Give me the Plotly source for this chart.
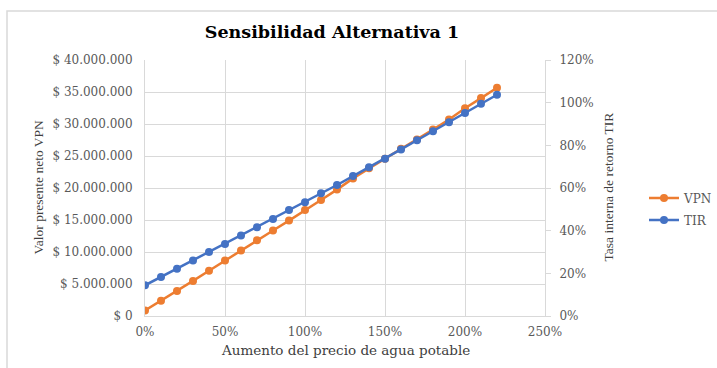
import plotly.graph_objects as go

# Aumento del precio del agua potable (%)
aumento = [0, 10, 20, 30, 40, 50, 60, 70, 80, 90, 100, 110,
           120, 130, 140, 150, 160, 170, 180, 190, 200, 210, 220]

# Valor presente neto (pesos)
vpn = [860000, 2370000, 3920000, 5480000, 7080000, 8680000, 10240000,
       11830000, 13350000, 14910000, 16580000, 18130000, 19750000,
       21500000, 23070000, 24560000, 26120000, 27580000, 29140000,
       30690000, 32450000, 34050000, 35670000]

# Tasa interna de retorno (fracción)
tir = [0.144, 0.183, 0.222, 0.260, 0.300, 0.338, 0.377, 0.416, 0.455,
       0.497, 0.533, 0.575, 0.614, 0.656, 0.697, 0.737, 0.781, 0.824,
       0.866, 0.908, 0.951, 0.995, 1.037]

vpn_ticks = [0, 5e6, 10e6, 15e6, 20e6, 25e6, 30e6, 35e6, 40e6]
vpn_tick_text = ["$ 0", "$ 5.000.000", "$ 10.000.000", "$ 15.000.000",
                 "$ 20.000.000", "$ 25.000.000", "$ 30.000.000",
                 "$ 35.000.000", "$ 40.000.000"]
tir_ticks = [0, 0.2, 0.4, 0.6, 0.8, 1.0, 1.2]
x_ticks = [0, 50, 100, 150, 200, 250]
x_tick_text = ["0%", "50%", "100%", "150%", "200%", "250%"]

ORANGE = "#ED7D31"
BLUE = "#4472C4"
GRID = "#D9D9D9"
TICK_COLOR = "#595959"
FONT = "DejaVu Serif"
TITLE_FONT = "Liberation Serif"

fig = go.Figure()
fig.add_trace(go.Scatter(
    x=aumento, y=vpn, name="VPN", mode="lines+markers",
    line=dict(color=ORANGE, width=2.5),
    marker=dict(color=ORANGE, size=8),
    legendgroup="vpn",
))
fig.add_trace(go.Scatter(
    x=aumento, y=tir, name="TIR", mode="lines+markers", yaxis="y2",
    line=dict(color=BLUE, width=2.5),
    marker=dict(color=BLUE, size=8),
    legendgroup="tir",
))

fig.update_layout(
    width=717, height=368,
    margin=dict(l=145, r=172, t=60, b=52, autoexpand=False),
    paper_bgcolor="white", plot_bgcolor="white",
    font=dict(family=FONT, size=12, color=TICK_COLOR),
    title=dict(
        text="<b>Sensibilidad Alternativa 1</b>",
        font=dict(family=FONT, size=17.5, color="#000000"),
        xref="paper", x=0.4675, xanchor="center",
        yref="container", y=0.913, yanchor="middle",
    ),
    xaxis=dict(
        range=[0, 250], tickvals=x_ticks, ticktext=x_tick_text,
        showgrid=True, gridcolor=GRID, gridwidth=1,
        showline=True, linecolor=GRID, linewidth=1,
        zeroline=False, ticks="", ticklabelstandoff=5,
        tickfont=dict(family=FONT, size=12, color=TICK_COLOR),
    ),
    yaxis=dict(
        range=[0, 40e6], tickvals=vpn_ticks, ticktext=vpn_tick_text,
        showgrid=True, gridcolor=GRID, gridwidth=1,
        showline=True, linecolor=GRID, linewidth=1,
        zeroline=False, ticks="", ticklabelstandoff=9,
        tickfont=dict(family=FONT, size=12, color=TICK_COLOR),
    ),
    yaxis2=dict(
        range=[0, 1.2], tickvals=tir_ticks, tickformat=".0%",
        overlaying="y", side="right",
        showgrid=False, zeroline=False,
        showline=True, linecolor=GRID, linewidth=1,
        ticks="outside", ticklen=5, tickcolor=GRID,
        ticklabelstandoff=6,
        tickfont=dict(family=FONT, size=12, color=TICK_COLOR),
    ),
    legend=dict(
        x=1.2475, xanchor="left", y=0.418, yanchor="middle",
        font=dict(family=FONT, size=12, color=TICK_COLOR),
        bgcolor="rgba(0,0,0,0)", tracegroupgap=3,
    ),
    showlegend=True,
)

# Axis titles
fig.add_annotation(
    text="Valor presente neto VPN", textangle=-90,
    xref="paper", yref="paper", x=-0.2675, y=0.502,
    xanchor="center", yanchor="middle", showarrow=False,
    font=dict(family=TITLE_FONT, size=13.5, color="#404040"),
)
fig.add_annotation(
    text="Tasa interna de retorno TIR", textangle=-90,
    xref="paper", yref="paper", x=1.1575, y=0.502,
    xanchor="center", yanchor="middle", showarrow=False,
    font=dict(family=TITLE_FONT, size=13.5, color="#404040"),
)
fig.add_annotation(
    text="Aumento del precio de agua potable",
    xref="paper", yref="paper", x=0.501, y=-0.133,
    xanchor="center", yanchor="middle", showarrow=False,
    font=dict(family=FONT, size=13.5, color="#404040"),
)

# Chart frame
fig.add_shape(
    type="rect", xref="paper", yref="paper",
    x0=-0.345, x1=1.45, y0=-0.25, y1=1.191,
    line=dict(color=GRID, width=1.5), fillcolor="rgba(0,0,0,0)",
    layer="below",
)

fig.write_html("out.html")
